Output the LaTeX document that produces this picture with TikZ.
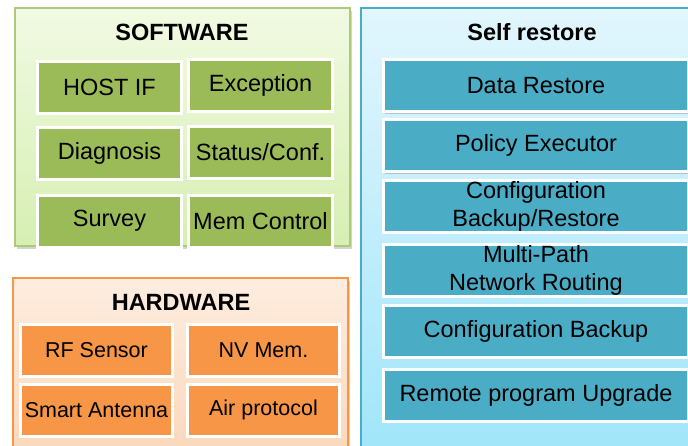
\documentclass[tikz,border=0pt]{standalone}
\usepackage{fontspec}
\setmainfont{Liberation Sans}
\usetikzlibrary{shadows}
\definecolor{swgreen}{HTML}{9BBB59}
\definecolor{hworange}{HTML}{F79646}
\definecolor{srblue}{HTML}{4BACC6}
\definecolor{swtop}{HTML}{F1FAE3}
\definecolor{swbot}{HTML}{D6EFB3}
\definecolor{hwtop}{HTML}{FDEDE0}
\definecolor{hwbot}{HTML}{FBD6B8}
\definecolor{srtop}{HTML}{E2F6FD}
\definecolor{srbot}{HTML}{9EE5FA}

\begin{document}
\begin{tikzpicture}[x=1pt,y=-1pt]
	\path [use as bounding box] (0,0) rectangle (688,445);
	\clip (0,0) rectangle (688,445);
	\tikzstyle{panel} = [line width=1.5pt, drop shadow={shadow xshift=1.5pt, shadow yshift=-2.5pt, opacity=.35}]
	\tikzstyle{box} = [rectangle, draw=white, line width=3pt, inner sep=0pt, minimum height=52pt, align=center,
		drop shadow={shadow xshift=1pt, shadow yshift=-2pt, opacity=.4}, font=\fontsize{23.5}{28}\selectfont]
	\tikzstyle{swbox} = [box, fill=swgreen, minimum width=144pt]
	\tikzstyle{hwbox} = [box, fill=hworange, minimum width=152pt, font=\fontsize{21.5}{25}\selectfont]
	\tikzstyle{srbox} = [box, fill=srblue, minimum width=305pt]
	\tikzstyle{title} = [font=\fontsize{23.5}{28}\selectfont\bfseries]
	% panels
	\draw[panel, draw=swgreen!80!white, top color=swtop, bottom color=swbot] (15,8) rectangle (350,246);
	\draw[panel, draw=hworange, top color=hwtop, bottom color=hwbot] (13,278) rectangle (348,470);
	\draw[panel, draw=srblue, top color=srtop, bottom color=srbot] (361,8) rectangle (710,470);
	\node[title] (sw) at (182,32) {SOFTWARE};
	\node[title] (hw) at (181,302) {HARDWARE};
	\node[title] (sr) at (532,32) {Self restore};
	% software
	\node[swbox] (hostif) at (109.5,87) {HOST IF};
	\node[swbox] (exc) at (260.5,85) {Exception};
	\node[swbox] (diag) at (109.5,153) {Diagnosis};
	\node[swbox] (stat) at (260.5,152) {Status/Conf.};
	\node[swbox] (surv) at (109.5,221) {Survey};
	\node[swbox] (mem) at (260.5,221) {Mem Control};
	% hardware
	\node[hwbox] (rf) at (96.5,350) {RF Sensor};
	\node[hwbox] (nv) at (263.5,350) {NV Mem.};
	\node[hwbox] (ant) at (96.5,410) {Smart Antenna};
	\node[hwbox] (air) at (263.5,410) {Air protocol};
	% self restore
	\node[srbox] (data) at (536,85.5) {Data Restore};
	\node[srbox] (pol) at (536,145.5) {Policy Executor};
	\node[srbox] (cbr) at (536,206) {Configuration\\Backup/Restore};
	\node[srbox] (mpr) at (536,270) {Multi-Path\\Network Routing};
	\node[srbox] (cb) at (536,331) {Configuration Backup};
	\node[srbox] (rpu) at (536,395) {Remote program Upgrade};
\end{tikzpicture}
\end{document}
